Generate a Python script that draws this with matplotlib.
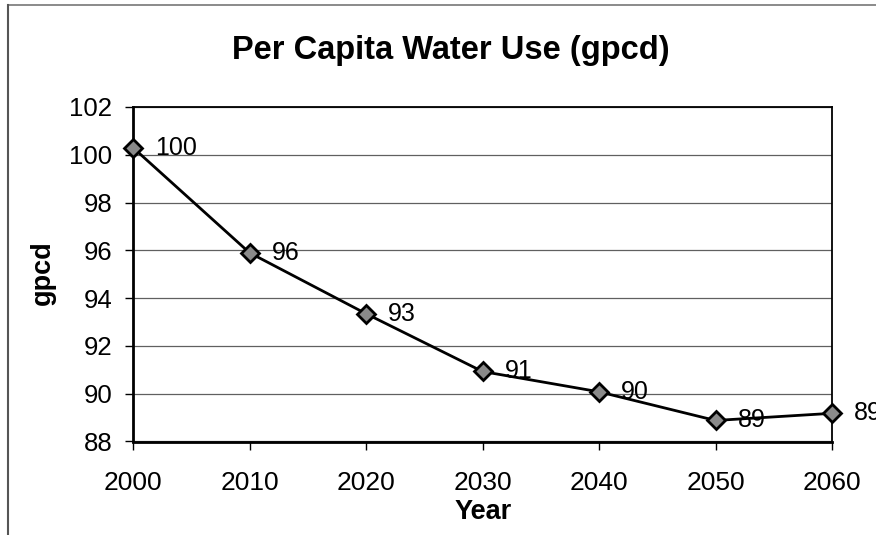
import matplotlib
matplotlib.use("Agg")
import matplotlib.pyplot as plt
from matplotlib.lines import Line2D

years = [2000, 2010, 2020, 2030, 2040, 2050, 2060]
gpcd = [100.3, 95.9, 93.35, 90.93, 90.08, 88.88, 89.18]
y_ticks = [88, 90, 92, 94, 96, 98, 100, 102]

plt.rcParams['font.family'] = ['Liberation Sans', 'DejaVu Sans']

W, H = 876, 535
fig = plt.figure(figsize=(W / 100, H / 100), dpi=100)
fig.patch.set_facecolor('white')

ax = fig.add_axes([133 / W, 1 - 441.5 / H, (832 - 133) / W, (441.5 - 107) / H])
ax.set_xlim(2000, 2060)
ax.set_ylim(88, 102)
ax.set_yticks(y_ticks)
ax.set_xticks(years)
ax.grid(axis='y', color='#606060', linewidth=0.9)
ax.set_axisbelow(True)

for side in ['left', 'bottom']:
    ax.spines[side].set_linewidth(2.0)
    ax.spines[side].set_color('black')
for side in ['top', 'right']:
    ax.spines[side].set_linewidth(1.3)
    ax.spines[side].set_color('black')

ax.tick_params(axis='both', direction='out', length=6, width=1, color='black')
ax.tick_params(axis='x', pad=15, labelsize=19)
ax.tick_params(axis='y', pad=9, labelsize=18.5)

ax.plot(years, gpcd, color='black', linewidth=2, marker='D', markersize=9,
        markerfacecolor='#8a8a8a', markeredgecolor='black', markeredgewidth=2,
        clip_on=False, zorder=5)

for x, v in zip(years, gpcd):
    ax.annotate(f"{v:.0f}", (x, v), xytext=(22, 0), textcoords='offset pixels',
                ha='left', va='center', fontsize=18, annotation_clip=False, zorder=6)

fig.text(451 / W, 1 - 59 / H, "Per Capita Water Use (gpcd)", ha='center', va='baseline',
         fontsize=23.5, fontweight='bold')
fig.text(483 / W, 1 - 519 / H, "Year", ha='center', va='baseline',
         fontsize=19.5, fontweight='bold')
fig.text(43 / W, 1 - 273 / H, "gpcd", ha='center', va='center', rotation=90,
         fontsize=19.5, fontweight='bold')

# chart frame
fig.add_artist(Line2D([8 / W, 1.0], [1 - 5 / H, 1 - 5 / H], transform=fig.transFigure,
                      color='#777777', linewidth=1.2))
fig.add_artist(Line2D([8 / W, 8 / W], [0.0, 1 - 5 / H], transform=fig.transFigure,
                      color='#555555', linewidth=1.5))

fig.savefig("out.png", dpi=100, facecolor='white')
